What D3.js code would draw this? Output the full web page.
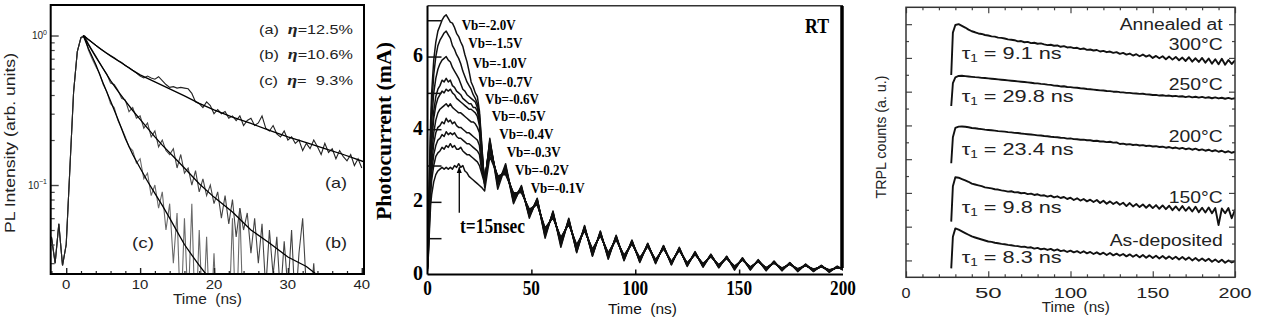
<!DOCTYPE html>
<html>
<head>
<meta charset="utf-8">
<script src="https://cdn.jsdelivr.net/npm/d3@7"></script>
<style>html,body{margin:0;padding:0;background:#fff;}svg{display:block;}</style>
</head>
<body>
<svg id="chart" width="1262" height="324"></svg>
<script>
// ================= Panel 1 : PL decay (log scale) =================
const p1Time = [-2,-1.5,-1,-0.5,0,0.5,1,1.5,2,2.5,
  3,3.5,4,4.5,5,5.5,6,6.5,7,7.5,
  8,8.5,9,9.5,10,10.5,11,11.5,12,12.5,
  13,13.5,14,14.5,15,15.5,16,16.5,17,17.5,
  18,18.5,19,19.5,20,20.5,21,21.5,22,22.5,
  23,23.5,24,24.5,25,25.5,26,26.5,27,27.5,
  28,28.5,29,29.5,30,30.5,31,31.5,32,32.5,
  33,33.5,34,34.5,35,35.5,36,36.5,37,37.5,
  38,38.5,39,39.5,40];
const p1DataA = [0.045,0.030,0.055,0.029,0.040,0.13,0.42,0.78,0.97,0.99,
  0.94,0.90,0.86,0.82,0.79,0.76,0.735,0.71,0.68,0.66,
  0.63,0.61,0.585,0.56,0.535,0.52,0.535,0.52,0.51,0.53,
  0.50,0.47,0.45,0.455,0.445,0.45,0.445,0.44,0.41,0.36,
  0.35,0.33,0.36,0.34,0.30,0.32,0.30,0.31,0.28,0.29,
  0.27,0.29,0.25,0.27,0.28,0.25,0.26,0.29,0.24,0.23,
  0.25,0.22,0.21,0.23,0.20,0.21,0.19,0.20,0.17,0.19,
  0.175,0.20,0.18,0.16,0.19,0.165,0.175,0.15,0.17,0.155,
  0.145,0.16,0.135,0.15,0.13];
const p1DataB = [0.045,0.030,0.055,0.029,0.040,0.13,0.42,0.78,0.97,0.99,
  0.88,0.80,0.73,0.66,0.60,0.55,0.48,0.47,0.43,0.38,
  0.37,0.31,0.33,0.28,0.29,0.24,0.26,0.21,0.23,0.18,
  0.20,0.17,0.16,0.175,0.13,0.16,0.12,0.13,0.10,0.125,
  0.09,0.11,0.085,0.10,0.075,0.09,0.06,0.085,0.055,0.08,
  0.045,0.07,0.05,0.065,0.035,0.06,0.03,0.055,0.02,0.05,
  0.025,0.045,0.018,0.042,0.02,0.05,0.015,0.035,0.06,0.02,
  0.015,0.03,0.012,0.01,0.01,0.01,0.01,0.01,0.01,0.01,
  0.01,0.01,0.01,0.01,0.01];
const p1DataC = [0.045,0.030,0.055,0.029,0.040,0.13,0.42,0.78,0.97,0.99,
  0.80,0.70,0.62,0.56,0.47,0.42,0.35,0.33,0.27,0.24,
  0.21,0.18,0.17,0.14,0.15,0.11,0.12,0.085,0.10,0.07,
  0.09,0.05,0.075,0.03,0.065,0.012,0.06,0.015,0.075,0.01,
  0.05,0.012,0.045,0.01,0.035,0.01,0.01,0.01,0.012,0.06,
  0.01,0.07,0.01,0.01,0.01,0.01,0.01,0.01,0.01,0.01,
  0.01,0.01,0.01,0.01,0.01,0.01,0.01,0.01,0.01,0.01,
  0.01,0.01,0.01,0.01,0.01,0.01,0.01,0.01,0.01,0.01,
  0.01,0.01,0.01,0.01,0.01];
const p1FitTimeA = [2.3,3,4,5,6,7.5,9,10,12,14,16,18,20,22.5,25,27.5,30,32.5,35,37.5,40.3];
const p1FitA = [1.0,0.94,0.86,0.79,0.73,0.655,0.585,0.545,0.49,0.44,0.395,0.352,0.318,0.285,0.258,0.232,0.21,0.192,0.175,0.16,0.143];
const p1FitTimeB = [2.3,3,4,5,6,7,8,9,10,11,12,13,14.5,16,18,20,22.5,25,27.5,30,32.5,33.8];
const p1FitB = [1.0,0.87,0.72,0.6,0.5,0.425,0.365,0.315,0.275,0.24,0.21,0.185,0.155,0.13,0.102,0.083,0.066,0.05,0.041,0.033,0.0285,0.0254];
const p1FitTimeC = [2.3,3,4,5,6,7,8,9,10,11,12,13,14,15,16,17,18,18.9];
const p1FitC = [1.0,0.82,0.64,0.48,0.365,0.275,0.205,0.16,0.13,0.106,0.088,0.073,0.06,0.049,0.04,0.034,0.029,0.0254];
const p1XTicks = [0,10,20,30,40];
const p1XMinor = [-2,2,4,6,8,12,14,16,18,22,24,26,28,32,34,36,38];
const p1YMajor = [0.1,1];
const p1YMinor = [0.03,0.04,0.05,0.06,0.07,0.08,0.09,0.2,0.3,0.4,0.5,0.6,0.7,0.8,0.9];
const p1LegendIds = ['(a)','(b)','(c)'];
const p1LegendEta = ['12.5%','10.6%','\u00A0\u00A09.3%'];

// ================= Panel 2 : photocurrent =================
const p2Time = [0,0.5,1,1.5,2,3,4,5,6,7, 8,9,10,11,12,13,14,15,16,17, 18,19,20,21,22,23,24,25,26,27.5,
  30,33.8,37.6,41.4,45.2,49,52.8,56.6,60.4,64.2, 68,71.8,75.6,79.4,83.2,87,90.8,94.6,98.4,102.2,
  106,109.8,113.6,117.4,121.2,125,128.8,132.6,136.4,140.2, 144,147.8,151.6,155.4,159.2,163,166.8,170.6,174.4,178.2,
  182,185.8,189.6,193.4,197.2,200];
const p2Bias = ['-2.0','-1.5','-1.0','-0.7','-0.6','-0.5','-0.4','-0.3','-0.2','-0.1'];
const p2Vb20 = [0.3,1.6,3.0,4.2,5.0,5.9,6.4,6.7,6.85,7.0, 7.1,7.15,7.05,6.95,6.92,6.8,6.64,6.55,6.4,6.28, 6.05,5.86,5.6,5.3,5.17,5.0,4.9,4.5,3.7,2.4,
  3.75,2.35,3.0,1.95,2.45,1.55,2.1,1.0,1.75,0.75, 1.55,0.6,1.35,0.5,1.2,0.42,1.08,0.38,0.95,0.33, 0.85,0.3,0.8,0.26,0.75,0.22,0.62,0.2,0.55,0.18, 0.5,0.12,0.45,0.12,0.4,0.1,0.36,0.1,0.33,0.08, 0.28,0.08,0.25,0.06,0.22,0.12];
const p2Vb15 = [0.3,1.5,2.8,3.9,4.6,5.5,6.0,6.3,6.45,6.55, 6.65,6.7,6.6,6.5,6.3,6.2,6.05,5.95,5.8,5.6, 5.45,5.3,5.2,5.1,4.95,4.85,4.7,4.4,3.6,2.5,
  3.7,2.45,3.05,2.0,2.4,1.6,2.05,1.05,1.72,0.8, 1.5,0.62,1.32,0.52,1.18,0.45,1.05,0.4,0.93,0.35, 0.86,0.32,0.78,0.28,0.72,0.24,0.63,0.22,0.56,0.2, 0.5,0.15,0.46,0.14,0.41,0.12,0.37,0.12,0.32,0.1, 0.29,0.1,0.25,0.08,0.23,0.14];
const p2Vb10 = [0.25,1.3,2.5,3.5,4.2,5.0,5.4,5.65,5.8,5.9, 5.95,6.0,5.9,5.85,5.7,5.6,5.5,5.4,5.25,5.1, 5.05,4.95,4.9,4.85,4.8,4.75,4.6,4.3,3.5,2.5,
  3.65,2.5,2.95,2.05,2.42,1.62,2.08,1.1,1.7,0.85, 1.52,0.66,1.3,0.55,1.16,0.47,1.06,0.42,0.92,0.36, 0.84,0.33,0.79,0.29,0.73,0.25,0.6,0.23,0.54,0.2, 0.49,0.16,0.44,0.15,0.39,0.13,0.35,0.12,0.31,0.1, 0.27,0.1,0.24,0.08,0.21,0.13];
const p2Vb07 = [0.2,1.2,2.3,3.2,3.8,4.5,4.9,5.1,5.2,5.35, 5.3,5.4,5.3,5.35,5.2,5.15,5.05,5.0,4.95,4.85, 4.8,4.75,4.7,4.7,4.6,4.6,4.5,4.2,3.4,2.55,
  3.6,2.55,2.95,2.1,2.38,1.65,2.05,1.12,1.68,0.88, 1.48,0.68,1.3,0.58,1.15,0.5,1.03,0.44,0.9,0.38, 0.83,0.34,0.77,0.3,0.72,0.26,0.6,0.24,0.53,0.22, 0.48,0.17,0.43,0.16,0.38,0.14,0.34,0.13,0.3,0.11, 0.27,0.11,0.23,0.09,0.21,0.14];
const p2Vb06 = [0.2,1.1,2.2,3.0,3.6,4.3,4.65,4.85,4.95,5.05, 5.0,5.1,5.05,5.1,5.0,4.95,4.85,4.8,4.75,4.7, 4.65,4.6,4.55,4.55,4.5,4.45,4.35,4.1,3.3,2.6,
  3.55,2.6,2.9,2.12,2.36,1.68,2.02,1.15,1.66,0.9, 1.47,0.7,1.28,0.6,1.13,0.52,1.02,0.45,0.9,0.4, 0.82,0.35,0.76,0.31,0.71,0.27,0.59,0.25,0.53,0.22, 0.47,0.18,0.43,0.17,0.38,0.15,0.34,0.14,0.3,0.12, 0.26,0.11,0.23,0.1,0.2,0.15];
const p2Vb05 = [0.2,1.0,2.0,2.8,3.3,3.9,4.25,4.45,4.55,4.6, 4.65,4.7,4.62,4.7,4.6,4.55,4.5,4.45,4.45,4.4, 4.35,4.3,4.25,4.2,4.2,4.15,4.05,3.9,3.2,2.6,
  3.5,2.62,2.88,2.15,2.34,1.7,2.0,1.18,1.64,0.92, 1.45,0.72,1.27,0.62,1.12,0.53,1.0,0.47,0.88,0.41, 0.81,0.36,0.75,0.32,0.7,0.28,0.58,0.26,0.52,0.23, 0.47,0.19,0.42,0.18,0.37,0.16,0.33,0.15,0.3,0.13, 0.26,0.12,0.22,0.1,0.2,0.15];
const p2Vb04 = [0.2,0.9,1.8,2.6,3.0,3.6,3.9,4.05,4.1,4.2, 4.15,4.3,4.2,4.25,4.15,4.2,4.1,4.05,4.05,4.0, 3.95,3.9,3.9,3.85,3.8,3.75,3.7,3.55,3.0,2.6,
  3.45,2.65,2.85,2.18,2.32,1.72,1.98,1.2,1.62,0.95, 1.44,0.75,1.25,0.64,1.1,0.55,0.99,0.48,0.87,0.42, 0.8,0.37,0.74,0.33,0.69,0.29,0.57,0.27,0.51,0.24, 0.46,0.2,0.41,0.19,0.37,0.17,0.33,0.15,0.29,0.14, 0.25,0.13,0.22,0.11,0.19,0.16];
const p2Vb03 = [0.15,0.8,1.7,2.4,2.8,3.3,3.55,3.7,3.75,3.85, 3.8,3.93,3.85,3.9,3.85,3.9,3.8,3.75,3.75,3.7, 3.65,3.6,3.6,3.55,3.5,3.45,3.4,3.3,2.9,2.55,
  3.4,2.68,2.82,2.2,2.3,1.75,1.96,1.22,1.6,0.97, 1.42,0.77,1.24,0.66,1.09,0.57,0.98,0.5,0.86,0.44, 0.79,0.38,0.73,0.34,0.68,0.3,0.57,0.28,0.5,0.25, 0.45,0.21,0.41,0.2,0.36,0.18,0.32,0.16,0.29,0.14, 0.25,0.13,0.22,0.12,0.19,0.16];
const p2Vb02 = [0.15,0.7,1.5,2.2,2.6,3.0,3.25,3.35,3.4,3.5, 3.45,3.55,3.5,3.6,3.5,3.55,3.45,3.45,3.5,3.4, 3.35,3.3,3.3,3.25,3.2,3.15,3.1,3.0,2.8,2.5,
  3.35,2.7,2.8,2.22,2.28,1.77,1.94,1.25,1.58,1.0, 1.4,0.8,1.22,0.68,1.08,0.58,0.97,0.52,0.85,0.45, 0.78,0.4,0.72,0.35,0.67,0.31,0.56,0.29,0.5,0.26, 0.45,0.22,0.4,0.2,0.36,0.18,0.32,0.17,0.28,0.15, 0.25,0.14,0.21,0.12,0.19,0.17];
const p2Vb01 = [0.1,0.6,1.3,1.9,2.2,2.55,2.75,2.85,2.9,2.95, 2.9,2.95,2.9,2.95,2.9,3.0,2.95,3.05,2.95,3.0, 2.85,2.8,2.7,2.65,2.6,2.55,2.5,2.45,2.4,2.3,
  3.25,2.72,2.75,2.25,2.25,1.8,1.92,1.28,1.56,1.02, 1.38,0.82,1.2,0.7,1.07,0.6,0.96,0.53,0.84,0.46, 0.77,0.41,0.71,0.36,0.66,0.32,0.55,0.3,0.49,0.27, 0.44,0.23,0.4,0.21,0.35,0.19,0.31,0.18,0.28,0.16, 0.24,0.15,0.21,0.13,0.18,0.17];
const p2YTicks = [1,2,3,4,5,6,7];
const p2YLabels = [0,2,4,6];
const p2XLabels = [0,50,100,150,200];
const p2XTicks = [50,100,150];
const p2ArrowTime = 15.3;
const p2ArrowRange = [1.7,2.95];

// ================= Panel 3 : TRPL =================
const p3Time = [27.5,28.5,
  30,32,34,36,38,40,42,44,46,48,
  50,52,54,56,58,60,62,64,66,68,
  70,72,74,76,78,80,82,84,86,88,
  90,92,94,96,98,100,102,104,106,108,
  110,112,114,116,118,120,122,124,126,128,
  130,132,134,136,138,140,142,144,146,148,
  150,152,154,156,158,160,162,164,166,168,
  170,172,174,176,178,180,182,184,186,188,
  190,192,194,196,198,200];
const p3Samples = ['300°C','250°C','200°C','150°C','As-deposited'];
const p3Tau = ['9.1','29.8','23.4','9.8','8.3'];
const p3S300 = [11.99,14.5,
  14.95,15.0,14.9,14.8,14.68,14.58,14.52,14.45,14.42,14.36,
  14.33,14.28,14.26,14.2,14.19,14.15,14.1,14.08,14.05,13.98,
  14.0,13.93,13.95,13.88,13.9,13.84,13.86,13.8,13.76,13.78,
  13.72,13.74,13.66,13.7,13.62,13.64,13.58,13.6,13.52,13.56,
  13.48,13.5,13.44,13.47,13.38,13.42,13.34,13.38,13.3,13.34,
  13.24,13.3,13.2,13.26,13.14,13.22,13.1,13.2,13.08,13.16,
  13.0,13.12,12.98,13.1,12.92,13.08,12.9,13.06,12.86,13.02,
  12.82,13.04,12.78,12.98,12.76,13.0,12.72,12.96,12.66,12.92,
  12.62,12.95,12.6,12.88,12.64,12.86];
const p3S250 = [10.15,11.5,
  11.85,11.93,11.94,11.92,11.9,11.88,11.86,11.85,11.82,11.81,
  11.79,11.77,11.75,11.73,11.71,11.69,11.67,11.65,11.63,11.61,
  11.59,11.57,11.55,11.53,11.5,11.49,11.46,11.45,11.42,11.4,
  11.36,11.35,11.31,11.32,11.28,11.27,11.24,11.23,11.2,11.19,
  11.16,11.14,11.12,11.1,11.08,11.07,11.04,11.03,11.0,11.0,
  10.97,10.96,10.93,10.93,10.9,10.89,10.87,10.88,10.84,10.83,
  10.8,10.81,10.77,10.79,10.75,10.77,10.73,10.75,10.71,10.73,
  10.68,10.72,10.66,10.7,10.65,10.69,10.63,10.67,10.61,10.66,
  10.6,10.64,10.58,10.63,10.57,10.61];
const p3S200 = [6.76,8.3,
  8.85,8.93,8.94,8.92,8.89,8.85,8.83,8.8,8.78,8.75,
  8.73,8.71,8.69,8.66,8.65,8.63,8.6,8.59,8.56,8.55,
  8.52,8.5,8.48,8.46,8.44,8.41,8.4,8.37,8.36,8.33,
  8.31,8.3,8.27,8.26,8.22,8.23,8.19,8.18,8.15,8.16,
  8.12,8.12,8.08,8.09,8.05,8.05,8.01,8.03,7.98,7.99,
  7.9,7.92,7.87,7.89,7.84,7.86,7.81,7.83,7.78,7.8,
  7.75,7.77,7.72,7.74,7.68,7.72,7.65,7.69,7.62,7.67,
  7.59,7.64,7.56,7.62,7.53,7.58,7.5,7.56,7.47,7.53,
  7.44,7.5,7.4,7.47,7.38,7.44];
const p3S150 = [3.3,5.4,
  5.93,5.9,5.82,5.74,5.66,5.55,5.5,5.45,5.4,5.33,
  5.3,5.27,5.22,5.2,5.15,5.12,5.08,5.1,5.03,5.04,
  4.98,5.0,4.93,4.96,4.88,4.92,4.84,4.86,4.78,4.84,
  4.74,4.8,4.7,4.76,4.64,4.72,4.58,4.68,4.55,4.64,
  4.5,4.6,4.46,4.58,4.4,4.54,4.36,4.5,4.34,4.46,
  4.3,4.42,4.22,4.4,4.2,4.34,4.16,4.32,4.12,4.3,
  4.1,4.28,4.06,4.26,4.04,4.24,3.98,4.2,3.96,4.22,
  3.94,4.16,3.9,4.18,3.86,4.12,3.84,4.14,3.8,4.1,
  3.1,4.08,3.8,4.1,3.5,4.02];
const p3SAsDep = [0.53,2.4,
  2.9,2.82,2.72,2.62,2.52,2.42,2.36,2.3,2.24,2.18,
  2.12,2.1,2.05,2.02,1.98,1.96,1.92,1.9,1.86,1.85,
  1.8,1.82,1.76,1.78,1.7,1.74,1.66,1.7,1.62,1.68,
  1.58,1.65,1.55,1.6,1.5,1.58,1.48,1.55,1.44,1.54,
  1.42,1.5,1.38,1.48,1.36,1.46,1.32,1.44,1.3,1.4,
  1.28,1.38,1.24,1.36,1.22,1.34,1.18,1.32,1.16,1.3,
  1.14,1.28,1.12,1.26,1.1,1.24,1.08,1.22,1.06,1.2,
  1.04,1.18,1.0,1.14,0.98,1.12,0.96,1.1,0.92,1.06,
  0.9,1.04,0.86,1.0,0.88,0.96];
const p3XLabels = [0,50,100,150,200];
const p3XMinor = [10,20,30,40,60,70,80,90,110,120,130,140,160,170,180,190];
const p3YMajor = [1,3,5,7,9,11,13,15];
const p3YMinor = [2,4,6,8,10,12,14];

// ================= drawing =================
const svg = d3.select('#chart');
svg.append('rect').attr('width',1262).attr('height',324).attr('fill','#fff');
const defs = svg.append('defs');
const zip = (t, v) => t.map((d, i) => [d, v[i]]);
function clipRect(id, xs, ys) {
  const [a, b] = xs.range(), [c, d] = ys.range();
  defs.append('clipPath').attr('id', id).append('rect')
    .attr('x', Math.min(a, b)).attr('y', Math.min(c, d))
    .attr('width', Math.abs(b - a)).attr('height', Math.abs(d - c));
}
function txt(g, s, x, y, o) {
  const t = g.append('text').attr('x', x).attr('y', y);
  if (s !== null) t.text(s);
  for (const k in o) t.attr(k, o[k]);
  return t;
}
function ticks(g, axis, tr, color, w) {
  g.append('g').attr('transform', tr).call(axis)
    .call(s => s.select('.domain').remove())
    .selectAll('line').attr('stroke', color).attr('stroke-width', w);
}

// ---------- Panel 1 ----------
const SANS = "'Liberation Sans', Arial, sans-serif";
const SERIF = "'Liberation Serif', 'Times New Roman', serif";
const x1 = d3.scaleLinear().domain([-2.1, 40.3]).range([50.7, 364]);
const y1 = d3.scaleLog().domain([0.0254, 1.6]).range([274, 5]);
clipRect('c1', x1, y1);
const g1 = svg.append('g');
const line1 = d3.line().x(d => x1(d[0])).y(d => y1(d[1]));
const pl1 = g1.append('g').attr('clip-path', 'url(#c1)');
[[p1DataC, '#6a6a6a'], [p1DataB, '#444'], [p1DataA, '#222']].forEach(([v, c]) =>
  pl1.append('path').datum(zip(p1Time, v)).attr('d', line1)
    .attr('fill', 'none').attr('stroke', c).attr('stroke-width', 1.1));
[[p1FitTimeA, p1FitA], [p1FitTimeB, p1FitB], [p1FitTimeC, p1FitC]].forEach(([t, v]) =>
  pl1.append('path').datum(zip(t, v)).attr('d', line1)
    .attr('fill', 'none').attr('stroke', '#000').attr('stroke-width', 1.3));
ticks(g1, d3.axisBottom(x1).tickValues(p1XTicks).tickSize(-6).tickFormat(''), 'translate(0,274)', '#222', 1.4);
ticks(g1, d3.axisBottom(x1).tickValues(p1XMinor).tickSize(-3).tickFormat(''), 'translate(0,274)', '#222', 1.2);
ticks(g1, d3.axisLeft(y1).tickValues(p1YMajor).tickSize(-8).tickFormat(''), 'translate(50.7,0)', '#444', 1.4);
ticks(g1, d3.axisLeft(y1).tickValues(p1YMinor).tickSize(-4).tickFormat(''), 'translate(50.7,0)', '#444', 1.2);
g1.append('rect').attr('x', 50.7).attr('y', 5).attr('width', 313.3).attr('height', 269)
  .attr('fill', 'none').attr('stroke', '#000').attr('stroke-width', 2);
p1XTicks.forEach(v => txt(g1, String(v), x1(v), 288.5, {'font-family': SANS, 'font-size': 12.5, 'text-anchor': 'middle', fill: '#222', textLength: 8.3 * String(v).length, lengthAdjust: 'spacingAndGlyphs'}));
p1YMajor.forEach(v => {
  const t = txt(g1, null, 47, y1(v) + 3.5, {'font-family': SANS, 'font-size': 10, 'text-anchor': 'end', fill: '#222'});
  t.append('tspan').text('10');
  t.append('tspan').attr('font-size', 7).attr('dy', -4.5).text(v === 1 ? '0' : '\u22121');
});
txt(g1, 'Time\u00A0 (ns)', 207.5, 304, {'font-family': SANS, 'font-size': 15, 'text-anchor': 'middle', fill: '#222', textLength: 69, lengthAdjust: 'spacingAndGlyphs'});
txt(g1, 'PL Intensity (arb. units)', 14.5, 143, {'font-family': SANS, 'font-size': 14, 'text-anchor': 'middle', fill: '#222', transform: 'rotate(-90,14.5,143)', textLength: 180, lengthAdjust: 'spacingAndGlyphs'});
const p1LegendY = [33.5, 59, 84.5];
p1LegendIds.forEach((id, i) => {
  const t = txt(g1, null, 259, p1LegendY[i], {'font-family': SANS, 'font-size': 13.5, fill: '#222', textLength: 94, lengthAdjust: 'spacingAndGlyphs'});
  t.append('tspan').text(id + '\u00A0\u00A0');
  t.append('tspan').attr('font-family', SERIF).attr('font-style', 'italic').attr('font-weight', 'bold').attr('font-size', 15).text('\u03B7');
  t.append('tspan').text('=' + p1LegendEta[i]);
});
[['(a)', 325, 187.5], ['(b)', 325, 248], ['(c)', 132, 248]].forEach(([s, x, y]) =>
  txt(g1, s, x, y, {'font-family': SANS, 'font-size': 15, fill: '#222', textLength: 22, lengthAdjust: 'spacingAndGlyphs'}));

// ---------- Panel 2 ----------
const x2 = d3.scaleLinear().domain([0, 200]).range([427.5, 843]);
const y2 = d3.scaleLinear().domain([0, 7.4]).range([274.5, 5.7]);
clipRect('c2', x2, y2);
const g2 = svg.append('g');
const line2 = d3.line().x(d => x2(d[0])).y(d => y2(d[1]));
const pl2 = g2.append('g').attr('clip-path', 'url(#c2)');
const p2Series = [p2Vb20, p2Vb15, p2Vb10, p2Vb07, p2Vb06, p2Vb05, p2Vb04, p2Vb03, p2Vb02, p2Vb01];
p2Series.forEach(v => pl2.append('path').datum(zip(p2Time, v)).attr('d', line2)
  .attr('fill', 'none').attr('stroke', '#111').attr('stroke-width', 1.5).attr('stroke-linejoin', 'round'));
ticks(g2, d3.axisLeft(y2).tickValues(p2YTicks).tickSize(-14).tickFormat(''), `translate(${x2(0)},0)`, '#111', 1.5);
ticks(g2, d3.axisBottom(x2).tickValues(p2XTicks).tickSize(-5).tickFormat(''), `translate(0,${y2(0)})`, '#111', 1.5);
g2.append('line').attr('x1', x2(0)).attr('x2', x2(200)).attr('y1', y2(7.4)).attr('y2', y2(7.4)).attr('stroke', '#333').attr('stroke-width', 1.5);
g2.append('line').attr('x1', x2(0)).attr('x2', x2(0)).attr('y1', y2(7.4)).attr('y2', y2(0)).attr('stroke', '#000').attr('stroke-width', 2);
g2.append('line').attr('x1', x2(0)).attr('x2', x2(200)).attr('y1', y2(0)).attr('y2', y2(0)).attr('stroke', '#000').attr('stroke-width', 2);
g2.append('line').attr('x1', 842).attr('x2', 842).attr('y1', 6).attr('y2', 268).attr('stroke', '#000').attr('stroke-width', 3.5);
p2YLabels.forEach(v => txt(g2, String(v), 423, y2(v) + 5.5, {'font-family': SERIF, 'font-weight': 'bold', 'font-size': 20, 'text-anchor': 'end', fill: '#000', textLength: 10, lengthAdjust: 'spacingAndGlyphs'}));
p2XLabels.forEach(v => txt(g2, String(v), x2(v), 294.5, {'font-family': SERIF, 'font-weight': 'bold', 'font-size': 21, 'text-anchor': 'middle', fill: '#000', textLength: 8.6 * String(v).length, lengthAdjust: 'spacingAndGlyphs'}));
txt(g2, 'Time\u00A0 (ns)', 642.5, 313.5, {'font-family': SANS, 'font-size': 14, 'text-anchor': 'middle', fill: '#111', textLength: 69, lengthAdjust: 'spacingAndGlyphs'});
txt(g2, 'Photocurrent (mA)', 391, 131, {'font-family': SERIF, 'font-weight': 'bold', 'font-size': 20, 'text-anchor': 'middle', fill: '#000', transform: 'rotate(-90,391,131)', textLength: 178, lengthAdjust: 'spacingAndGlyphs'});
txt(g2, 'RT', 805, 33.3, {'font-family': SERIF, 'font-weight': 'bold', 'font-size': 22, fill: '#000', textLength: 24, lengthAdjust: 'spacingAndGlyphs'});
const p2LabelX = [461.7, 468.3, 472.7, 478.3, 485, 491.7, 499.3, 506.7, 515, 530.7];
const p2LabelY = [30, 48.3, 68.3, 87.3, 104, 120.7, 139.3, 157.3, 175, 193.3];
p2Bias.forEach((b, i) => txt(g2, 'Vb=' + b + 'V', p2LabelX[i], p2LabelY[i], {'font-family': SERIF, 'font-weight': 'bold', 'font-size': 15.5, fill: '#000', textLength: 54, lengthAdjust: 'spacingAndGlyphs'}));
defs.append('marker').attr('id', 'arr').attr('viewBox', '0 0 10 10').attr('refX', 9).attr('refY', 5)
  .attr('markerWidth', 5).attr('markerHeight', 6).attr('orient', 'auto')
  .append('path').attr('d', 'M0,1 L10,5 L0,9 z').attr('fill', '#000');
g2.append('line').attr('x1', x2(p2ArrowTime)).attr('x2', x2(p2ArrowTime))
  .attr('y1', y2(p2ArrowRange[0])).attr('y2', y2(p2ArrowRange[1]))
  .attr('stroke', '#000').attr('stroke-width', 1.3).attr('marker-end', 'url(#arr)');
txt(g2, 't=15nsec', 460, 233, {'font-family': SERIF, 'font-weight': 'bold', 'font-size': 21, fill: '#000', textLength: 65, lengthAdjust: 'spacingAndGlyphs'});

// ---------- Panel 3 ----------
const x3 = d3.scaleLinear().domain([0, 200]).range([906, 1235]);
const y3 = d3.scaleLinear().domain([0, 16]).range([277.3, 7.3]);
clipRect('c3', x3, y3);
const g3 = svg.append('g');
const line3 = d3.line().x(d => x3(d[0])).y(d => y3(d[1]));
const pl3 = g3.append('g').attr('clip-path', 'url(#c3)');
[p3S300, p3S250, p3S200, p3S150, p3SAsDep].forEach(v => pl3.append('path').datum(zip(p3Time, v)).attr('d', line3)
  .attr('fill', 'none').attr('stroke', '#111').attr('stroke-width', 1.9).attr('stroke-linejoin', 'round'));
const TC = '#444';
ticks(g3, d3.axisBottom(x3).tickValues(p3XLabels).tickSize(-6).tickFormat(''), `translate(0,${y3(0)})`, TC, 1.2);
ticks(g3, d3.axisBottom(x3).tickValues(p3XMinor).tickSize(-3).tickFormat(''), `translate(0,${y3(0)})`, TC, 1.2);
ticks(g3, d3.axisTop(x3).tickValues(p3XLabels).tickSize(-6).tickFormat(''), `translate(0,${y3(16)})`, TC, 1.2);
ticks(g3, d3.axisTop(x3).tickValues(p3XMinor).tickSize(-3).tickFormat(''), `translate(0,${y3(16)})`, TC, 1.2);
ticks(g3, d3.axisLeft(y3).tickValues(p3YMajor).tickSize(-6).tickFormat(''), `translate(${x3(0)},0)`, TC, 1.2);
ticks(g3, d3.axisLeft(y3).tickValues(p3YMinor).tickSize(-3).tickFormat(''), `translate(${x3(0)},0)`, TC, 1.2);
ticks(g3, d3.axisRight(y3).tickValues(p3YMajor).tickSize(-6).tickFormat(''), `translate(${x3(200)},0)`, TC, 1.2);
ticks(g3, d3.axisRight(y3).tickValues(p3YMinor).tickSize(-3).tickFormat(''), `translate(${x3(200)},0)`, TC, 1.2);
g3.append('rect').attr('x', x3(0)).attr('y', y3(16)).attr('width', x3(200) - x3(0)).attr('height', y3(0) - y3(16))
  .attr('fill', 'none').attr('stroke', '#333').attr('stroke-width', 1.5);
const p3LW = [9, 26.7, 33.3, 33, 33];
p3XLabels.forEach((v, i) => txt(g3, String(v), x3(v), 298, {'font-family': SANS, 'font-size': 14, 'text-anchor': 'middle', fill: '#222', textLength: p3LW[i], lengthAdjust: 'spacingAndGlyphs'}));
txt(g3, 'Time\u00A0 (ns)', 1075.8, 311.5, {'font-family': SANS, 'font-size': 14.5, 'text-anchor': 'middle', fill: '#222', textLength: 68, lengthAdjust: 'spacingAndGlyphs'});
txt(g3, 'TRPL counts (a. u.)', 885.5, 137, {'font-family': SANS, 'font-size': 14, 'text-anchor': 'middle', fill: '#222', transform: 'rotate(-90,885.5,137)', textLength: 123, lengthAdjust: 'spacingAndGlyphs'});
txt(g3, 'Annealed at', 1222.7, 30, {'font-family': SANS, 'font-size': 16, 'text-anchor': 'end', fill: '#222', textLength: 103, lengthAdjust: 'spacingAndGlyphs'});
const p3SampleY = [50, 90, 141.7, 203.3, 246];
const p3SampleW = [54, 54, 54, 54, 113];
p3Samples.forEach((s, i) => txt(g3, s, 1222.7, p3SampleY[i], {'font-family': SANS, 'font-size': 16, 'text-anchor': 'end', fill: '#222', textLength: p3SampleW[i], lengthAdjust: 'spacingAndGlyphs'}));
const p3TauY = [58.5, 101.7, 155, 213.3, 263.3];
p3Tau.forEach((v, i) => {
  const t = txt(g3, null, 961.7, p3TauY[i], {'font-family': SANS, 'font-size': 16, fill: '#222', textLength: v.length > 3 ? 112 : 100, lengthAdjust: 'spacingAndGlyphs'});
  t.append('tspan').text('\u03C4');
  t.append('tspan').attr('font-size', 10).attr('dy', 3).text('1');
  t.append('tspan').attr('dy', -3).text(' = ' + v + ' ns');
});
</script>
</body>
</html>
